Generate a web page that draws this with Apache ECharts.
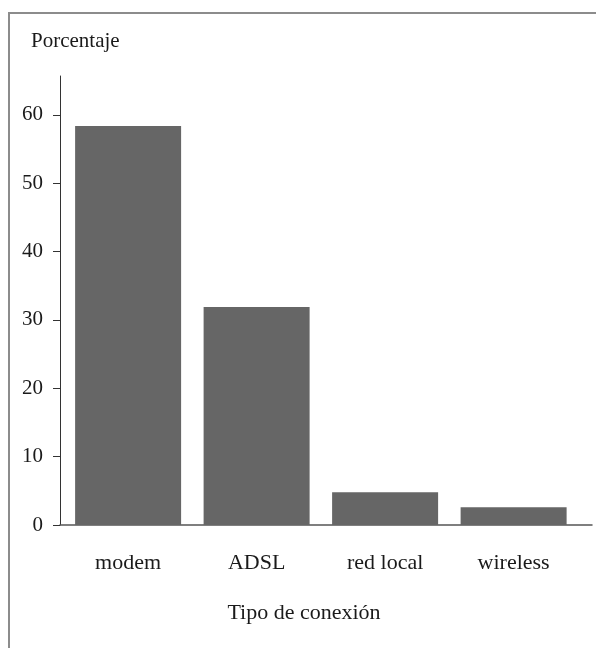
<!DOCTYPE html>
<html>
<head>
<meta charset="utf-8">
<script src="https://cdn.jsdelivr.net/npm/echarts@6/dist/echarts.min.js"></script>
<style>
  html, body { margin: 0; padding: 0; background: #fff; }
  #frame { position: absolute; left: 8px; top: 12px; width: 588px; height: 636px;
           border-left: 2px solid #8c8c8c; border-top: 2px solid #8c8c8c; box-sizing: border-box; }
  #chart { position: absolute; left: 0; top: 0; width: 596px; height: 650px; }
</style>
</head>
<body>
<div id="frame"></div>
<div id="chart"></div>
<script>
const categories = ['modem', 'ADSL', 'red local', 'wireless'];
const values = [58.4, 31.9, 4.8, 2.6];
const yTicks = [0, 10, 20, 30, 40, 50, 60];
const yTitle = 'Porcentaje';
const xTitle = 'Tipo de conexión';

const font = 'Liberation Serif, Times New Roman, serif';
const chart = echarts.init(document.getElementById('chart'), null, { renderer: 'canvas' });
chart.setOption({
  animation: false,
  backgroundColor: 'transparent',
  title: {
    text: yTitle, left: 31, top: 31, padding: 0,
    textStyle: { fontFamily: font, fontSize: 21, fontWeight: 'normal', color: '#1a1a1a' }
  },
  grid: { left: 60, right: 4, top: 76, bottom: 125, containLabel: false },
  xAxis: {
    type: 'value', min: -0.53, max: 3.61,
    axisLine: { show: true, lineStyle: { color: '#555', width: 1.5 } },
    axisTick: { show: false },
    splitLine: { show: false },
    axisLabel: {
      customValues: categories.map((c, i) => i),
      formatter: v => categories[v] ?? '',
      margin: 27,
      fontFamily: font, fontSize: 22, color: '#1a1a1a'
    },
    name: xTitle, nameLocation: 'middle', nameGap: 77,
    nameTextStyle: { fontFamily: font, fontSize: 22, color: '#1a1a1a', padding: [0, 44, 0, 0] }
  },
  yAxis: {
    type: 'value', min: 0, max: 65.7,
    axisLine: { show: true, onZero: false, lineStyle: { color: '#333', width: 1 } },
    axisTick: { show: true, customValues: yTicks, length: 7, lineStyle: { color: '#333' } },
    splitLine: { show: false },
    axisLabel: {
      customValues: yTicks, margin: 17,
      fontFamily: font, fontSize: 21, color: '#1a1a1a'
    }
  },
  series: [{
    type: 'bar',
    data: categories.map((c, i) => [i, values[i]]),
    barWidth: 106,
    itemStyle: { color: '#666666' },
    silent: true
  }]
});
</script>
</body>
</html>
